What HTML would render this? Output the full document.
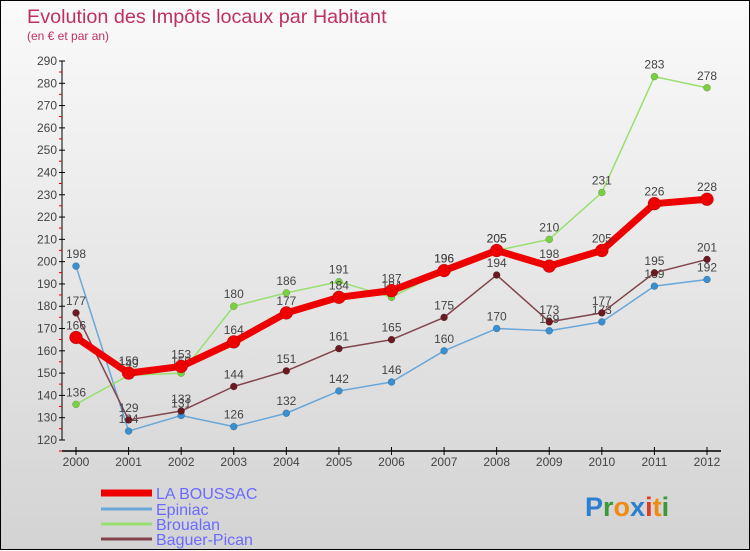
<!DOCTYPE html>
<html><head><meta charset="utf-8">
<style>
html,body{margin:0;padding:0}
body{width:750px;height:550px;overflow:hidden;font-family:"Liberation Sans",sans-serif}
#wrap{position:relative;width:748px;height:548px;border:1px solid #000;background:linear-gradient(#fafafa,#d3d3d3)}
svg{position:absolute;left:0;top:0}
</style></head><body>
<div id="wrap">
<svg id="chart" width="750" height="550">
<text x="26" y="22" font-size="19.8" fill="#c0305f">Evolution des Impôts locaux par Habitant</text>
<text x="26" y="39" font-size="12" fill="#c0305f">(en € et par an)</text>
<g font-size="27" font-weight="bold">
<text x="584" y="515"><tspan fill="#2a7fd0">P</tspan><tspan fill="#3a9a3a">r</tspan><tspan fill="#f08a10">o</tspan><tspan fill="#2a7fd0">x</tspan><tspan fill="#e03a20">i</tspan><tspan fill="#f08a10">t</tspan><tspan fill="#3a9a3a">i</tspan></text>
</g>
</svg>
</div>
<script>
const years=[2000,2001,2002,2003,2004,2005,2006,2007,2008,2009,2010,2011,2012];
const laBoussac=[166,150,153,164,177,184,187,196,205,198,205,226,228];
const epiniac=[198,124,131,126,132,142,146,160,170,169,173,189,192];
const broualan=[136,149,150,180,186,191,184,196,205,210,231,283,278];
const baguerPican=[177,129,133,144,151,161,165,175,194,173,177,195,201];
const yTicks=[120,130,140,150,160,170,180,190,200,210,220,230,240,250,260,270,280,290];
const NS="http://www.w3.org/2000/svg";
const svg=document.getElementById('chart');
const x0=75,x1=706,yTop=60,yBot=439,vMin=120,vMax=290;
function xs(i){return x0+(x1-x0)*i/(years.length-1);}
function ys(v){return yBot-(v-vMin)*(yBot-yTop)/(vMax-vMin);}
function mk(tag,attrs){const e=document.createElementNS(NS,tag);for(const k in attrs)e.setAttribute(k,attrs[k]);svg.appendChild(e);return e;}
let ax=mk('line',{x1:61,y1:yTop,x2:61,y2:yBot,stroke:'#000','stroke-width':1});


let xa=mk('line',{x1:61,y1:450,x2:720,y2:450,stroke:'#000','stroke-width':1.5});


yTicks.forEach(v=>{
  const y=ys(v);
  let t=mk('line',{x1:58,y1:y,x2:64,y2:y,stroke:'#000'});
  
  
  let m=mk('line',{x1:58,y1:y+11,x2:61,y2:y+11,stroke:'#d00'});
  
  
  let l=mk('text',{x:56,y:y+4,'font-size':12,fill:'#444','text-anchor':'end'});
  l.textContent=v;
  
  
});
years.forEach((yr,i)=>{
  const x=xs(i);
  let t=mk('line',{x1:x,y1:446,x2:x,y2:454,stroke:'#000'});
  
  
  let l=mk('text',{x:x,y:465,'font-size':12,fill:'#444','text-anchor':'middle'});
  l.textContent=yr;
  
  
});
const series=[
 {name:'epiniac',data:epiniac,color:'#6aa7d8',dot:'#3a8fd0',w:1.5,r:3.5},
 {name:'broualan',data:broualan,color:'#99e070',dot:'#7ad040',w:1.5,r:3.5},
 {name:'baguer-pican',data:baguerPican,color:'#80454a',dot:'#6a1a20',w:1.5,r:3.5},
 {name:'la-boussac',data:laBoussac,color:'#ee0000',dot:'#ee0000',w:7,r:6.5}
];
series.forEach(s=>{
  let p=mk('polyline',{points:s.data.map((v,i)=>xs(i)+','+ys(v)).join(' '),fill:'none',stroke:s.color,'stroke-width':s.w,'stroke-linejoin':'round'});
  
  
  s.data.forEach((v,i)=>{
    let c=mk('circle',{cx:xs(i),cy:ys(v),r:s.r,fill:s.dot,stroke:'rgba(0,0,0,0.3)','stroke-width':0.5});
    
    
    let l=mk('text',{x:xs(i),y:ys(v)-8,'font-size':12,fill:'#444','text-anchor':'middle'});
    l.textContent=v;
    
    
  });
});
const legend=[['LA BOUSSAC','#ee0000',7],['Epiniac','#6aa7d8',3],['Broualan','#99e070',3],['Baguer-Pican','#80454a',3]];
const ly=[492,508,523,538];
legend.forEach((lg,i)=>{
  let ln=mk('line',{x1:100,y1:ly[i],x2:151,y2:ly[i],stroke:lg[1],'stroke-width':lg[2]});
  
  
  let t=mk('text',{x:155,y:ly[i]+6,'font-size':16,fill:'#6a6aff'});
  t.textContent=lg[0];
  
  
});
</script>
</body></html>
